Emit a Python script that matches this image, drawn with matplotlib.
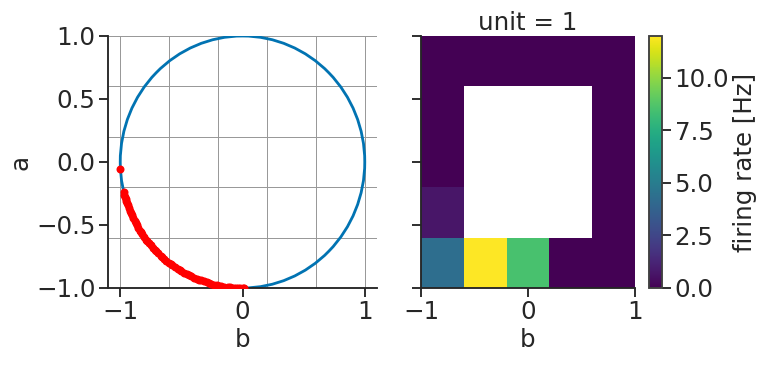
import numpy as np
import matplotlib
matplotlib.use('Agg')
import matplotlib.pyplot as plt
from matplotlib.patches import Circle
import seaborn as sns

sns.set_theme(context='talk', style='ticks')
fs = 24.5
plt.rcParams.update({'xtick.labelsize': fs, 'ytick.labelsize': fs,
                     'axes.labelsize': fs, 'axes.titlesize': fs})

# track: unit circle in (b, a) space
track_radius = 1.0

# positions where the unit fired, as angle on the circle (degrees)
spike_angles = [183,
                194, 195, 196, 197, 198, 199, 200, 201.5, 203, 204, 205, 206.5,
                208, 209, 210, 211.5, 213, 214, 215, 216.5, 218, 219, 220, 221.5,
                223, 224, 225, 226.5, 228, 229, 230, 231.5, 233, 234, 235, 236.5,
                238, 239, 240, 241.5, 243, 244, 245, 246.5, 248, 249, 250, 251.5,
                253, 254, 255, 256.5, 258, 259, 260, 261.5, 263, 264, 265, 266,
                267, 268, 269, 270, 270.8]

# binned firing-rate map (rows = a from -1 to 1, cols = b from -1 to 1)
bin_edges = [-1.0, -0.6, -0.2, 0.2, 0.6, 1.0]
rate_map = np.array([
    [4.3, 12.0, 8.5, 0.0, 0.0],
    [0.7, np.nan, np.nan, np.nan, 0.0],
    [0.0, np.nan, np.nan, np.nan, 0.0],
    [0.0, np.nan, np.nan, np.nan, 0.0],
    [0.0, 0.0, 0.0, 0.0, 0.0],
])
unit_id = 1

fig = plt.figure(figsize=(765 / 72, 365 / 72), dpi=72)
ax1 = fig.add_axes([0.1412, 0.2110, 0.3516, 0.6904])
ax2 = fig.add_axes([0.5503, 0.2110, 0.2797, 0.6904], sharey=ax1)
cax = fig.add_axes([0.8484, 0.2110, 0.0170, 0.6904])

# left: trajectory + spikes
for e in bin_edges:
    ax1.axvline(e, color='0.6', lw=1, zorder=0)
    ax1.axhline(e, color='0.6', lw=1, zorder=0)
ax1.add_patch(Circle((0, 0), track_radius, fill=False, ec='#0173B2', lw=2.8, zorder=2))
theta = np.deg2rad(spike_angles)
ax1.plot(np.cos(theta), np.sin(theta), 'o', color='red', ms=8, mec='none', zorder=3)
ax1.set_xlim(-1.1, 1.1)
ax1.set_ylim(-1, 1)
ax1.set_xticks([-1, 0, 1])
ax1.set_yticks([-1, -0.5, 0, 0.5, 1])
ax1.set_yticklabels(['−1.0', '−0.5', '0.0', '0.5', '1.0'])
ax1.set_xlabel('b')
ax1.set_ylabel('a')

# right: rate map
mesh = ax2.pcolormesh(bin_edges, bin_edges, np.ma.masked_invalid(rate_map),
                      cmap='viridis', vmin=0, vmax=np.nanmax(rate_map))
ax2.set_xlim(-1, 1)
ax2.set_xticks([-1, 0, 1])
ax2.tick_params(axis='y', labelleft=False)
ax2.set_xlabel('b')
ax2.set_title(f'unit = {unit_id}')

cb = fig.colorbar(mesh, cax=cax)
cb.set_ticks([0, 2.5, 5, 7.5, 10])
cb.set_label('firing rate [Hz]')
cb.outline.set_edgecolor('0.25')

sns.despine(ax=ax1)
sns.despine(ax=ax2)

fig.savefig('out.png', dpi=72)
